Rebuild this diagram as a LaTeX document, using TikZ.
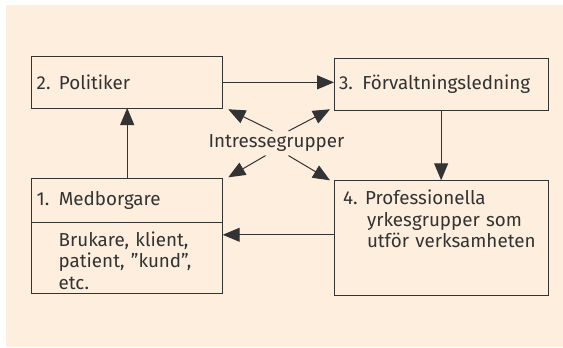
\documentclass[tikz,border=0pt]{standalone}
\usepackage{fontspec}
\setmainfont{Fira Sans}
\usetikzlibrary{arrows.meta,positioning}

\definecolor{paper}{HTML}{FDEEDD}
\definecolor{ink}{HTML}{333333}

\begin{document}
\begin{tikzpicture}[
    x=1pt, y=-1pt,
    line width=1pt,
    every node/.style={font=\fontsize{18.8}{21.5}\selectfont, text=ink},
    box/.style={draw=ink, rectangle, anchor=north west, align=left, inner xsep=5pt, outer sep=0pt},
    >={Triangle[length=17pt,width=14pt]}
]

% Paper background
\useasboundingbox (0,0) rectangle (563,348);
\fill[paper] (6,5) rectangle (563,347);

% Top row
\node[box, minimum width=191pt, minimum height=51.3pt, text width=181pt] (politiker) at (31.7,56.7) {2.\hspace{0.45em}Politiker};
\node[box, minimum width=214.3pt, minimum height=51.7pt, text width=204.3pt] (ledning) at (334,58.3) {3. Förvaltningsledning};

% Medborgare box (head and body)
\node[box, minimum width=191pt, minimum height=44pt, text width=181pt] (medborgare) at (31.7,178.3) {1. Medborgare};
\node[box, below=0pt of medborgare, text width=181pt, inner ysep=5pt,
      text height=18.7pt, text depth=42.3pt] (brukare)
    {\hspace*{22pt}Brukare, klient,\\\hspace*{22pt}patient, ”kund”,\\\hspace*{22pt}etc.};

% Professionella box
\node[box, minimum width=214.3pt, minimum height=115pt, text width=204.3pt, inner ysep=5pt,
      text height=19.3pt, text depth=85.7pt] (yrke) at (334,180.3)
    {\hspace*{4pt}4.\hspace{0.4em}Professionella\\\hspace*{28pt}yrkesgrupper som\\\hspace*{28pt}utför verksamheten};

% Interest groups in the middle
\node (grupper) at (276.5,143.3) {Intressegrupper};

% Main arrows
\draw[->, ink] (politiker.east) -- (politiker.east -| ledning.west);
\draw[->, ink] (medborgare) -- (politiker);
\draw[->, ink] (ledning) -- (yrke);
\draw[->, ink] ([yshift=3pt]yrke.west) -- ([yshift=3pt]yrke.west -| brukare.east);

% Arrows from the interest groups
\draw[->, ink] ([xshift=-4pt]grupper.north) -- ([shift={(5.6pt,-1.3pt)}]politiker.south east);
\draw[->, ink] ([xshift=12pt]grupper.north) -- ([shift={(-4pt,0.7pt)}]ledning.south west);
\draw[->, ink] ([xshift=-11pt]grupper.south) -- ([shift={(5.6pt,1pt)}]medborgare.north east);
\draw[->, ink] ([xshift=12pt]grupper.south) -- ([shift={(-4pt,0pt)}]yrke.north west);

\end{tikzpicture}
\end{document}
